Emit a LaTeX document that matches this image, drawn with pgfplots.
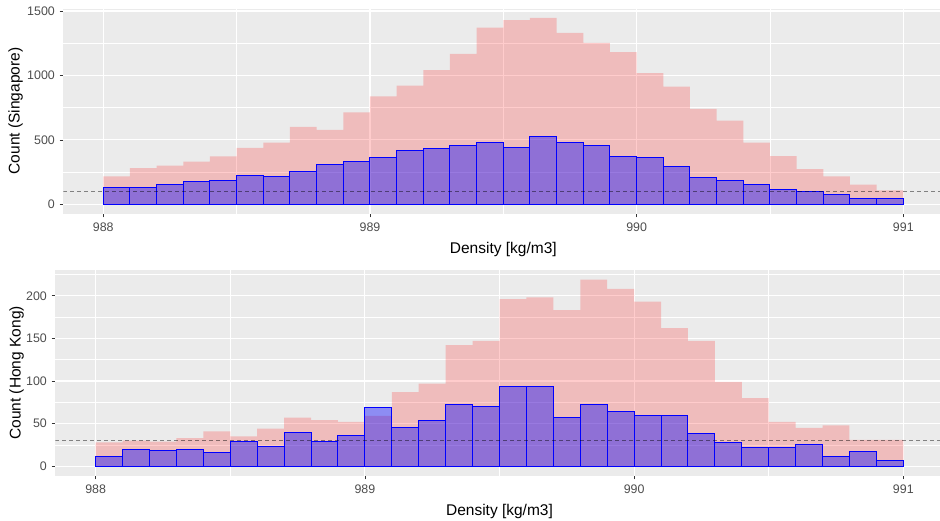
\documentclass[border=0pt]{standalone}
\usepackage{fontspec}
\setmainfont{Liberation Sans}
\usepackage{pgfplots}
\pgfplotsset{compat=1.18}
\definecolor{panelbg}{HTML}{EBEBEB}
\definecolor{ticklab}{HTML}{4D4D4D}
\definecolor{tickcol}{HTML}{333333}
\pgfplotsset{gg/.style={
  scale only axis, anchor=south west,
  axis background/.style={fill=panelbg},
  axis line style={draw=none},
  xmin=987.85, xmax=991.15,
  xtick={988,989,990,991}, minor xtick={988.5,989.5,990.5},
  grid=both,
  major grid style={white, line width=1.1bp},
  minor grid style={white, line width=0.55bp},
  tick align=outside, major tick length=3.7bp, minor tick length=0pt,
  tick style={draw=tickcol, line width=0.55bp},
  xtick pos=bottom, ytick pos=left,
  ticklabel style={font=\fontsize{12.4bp}{14bp}\selectfont, text=ticklab},
  yticklabel style={inner sep=0pt, anchor=east, xshift=-4.6bp},
  xticklabel style={inner sep=0pt, anchor=north, yshift=-5bp},
  /pgf/number format/assume math mode=true,
  /pgf/number format/set thousands separator={},
  label style={font=\fontsize{15.5bp}{18bp}\selectfont, text=black, inner sep=0pt},
  xlabel={Density [kg/m3]},
}}
\begin{document}
\begin{tikzpicture}
\useasboundingbox (0,0) rectangle (940bp,521bp);
% ---------- Singapore ----------
\begin{axis}[gg, at={(63.3bp,307.4bp)}, width=880bp, height=205bp,
  ymin=-72.3, ymax=1518.3,
  ytick={0,500,1000,1500}, minor ytick={250,750,1250},
  ylabel={Count (Singapore)},
  xlabel style={at={(axis description cs:0.5,-0.1937)}, anchor=base},
  ylabel style={at={(axis description cs:-0.0543,0.5)}, anchor=center},
]
\addplot[const plot, fill=red, fill opacity=0.2, draw=none] coordinates {
(988.0,216) (988.1,281) (988.2,299) (988.3,330) (988.4,371) (988.5,438)
(988.6,479) (988.7,600) (988.8,577) (988.9,714) (989.0,838) (989.1,920)
(989.2,1041) (989.3,1167) (989.4,1371) (989.5,1428) (989.6,1446) (989.7,1330)
(989.8,1252) (989.9,1180) (990.0,1018) (990.1,912) (990.2,740) (990.3,649)
(990.4,479) (990.5,374) (990.6,273) (990.7,216) (990.8,152) (990.9,108)
(991.0,108)} \closedcycle;
\addplot[ybar interval, fill=blue, fill opacity=0.4, draw=blue, line width=1bp] coordinates {
(988.0,131) (988.1,131) (988.2,157) (988.3,178) (988.4,188) (988.5,224)
(988.6,212) (988.7,255) (988.8,312) (988.9,335) (989.0,361) (989.1,418)
(989.2,433) (989.3,459) (989.4,482) (989.5,444) (989.6,526) (989.7,482)
(989.8,459) (989.9,371) (990.0,361) (990.1,297) (990.2,204) (990.3,188)
(990.4,157) (990.5,116) (990.6,98) (990.7,75) (990.8,46) (990.9,46)
(991.0,46)};
\addplot[black, opacity=0.45, dash pattern=on 4bp off 3bp, line width=1bp] coordinates {(987.85,100) (991.15,100)};
\end{axis}
% ---------- Hong Kong ----------
\begin{axis}[gg, at={(55.3bp,45.4bp)}, width=888.4bp, height=205.4bp,
  ymin=-10.95, ymax=229.95,
  ytick={0,50,100,150,200}, minor ytick={25,75,125,175,225},
  ylabel={Count (Hong Kong)},
  xlabel style={at={(axis description cs:0.5,-0.1937)}, anchor=base},
  ylabel style={at={(axis description cs:-0.04367,0.5)}, anchor=center},
]
\addplot[const plot, fill=red, fill opacity=0.2, draw=none] coordinates {
(988.0,28) (988.1,30) (988.2,29) (988.3,33) (988.4,41) (988.5,35)
(988.6,44) (988.7,57) (988.8,54) (988.9,52) (989.0,59) (989.1,87)
(989.2,97) (989.3,142) (989.4,147) (989.5,196) (989.6,198) (989.7,183)
(989.8,219) (989.9,208) (990.0,193) (990.1,162) (990.2,147) (990.3,99)
(990.4,80) (990.5,52) (990.6,45) (990.7,48) (990.8,31) (990.9,31)
(991.0,31)} \closedcycle;
\addplot[ybar interval, fill=blue, fill opacity=0.4, draw=blue, line width=1bp] coordinates {
(988.0,11) (988.1,20) (988.2,19) (988.3,20) (988.4,16) (988.5,29)
(988.6,23) (988.7,40) (988.8,29) (988.9,36) (989.0,69) (989.1,45)
(989.2,54) (989.3,73) (989.4,70) (989.5,94) (989.6,93) (989.7,57)
(989.8,73) (989.9,64) (990.0,59) (990.1,59) (990.2,39) (990.3,28)
(990.4,22) (990.5,22) (990.6,25) (990.7,11) (990.8,17) (990.9,7)
(991.0,7)};
\addplot[black, opacity=0.45, dash pattern=on 4bp off 3bp, line width=1bp] coordinates {(987.85,30) (991.15,30)};
\end{axis}
\end{tikzpicture}
\end{document}
